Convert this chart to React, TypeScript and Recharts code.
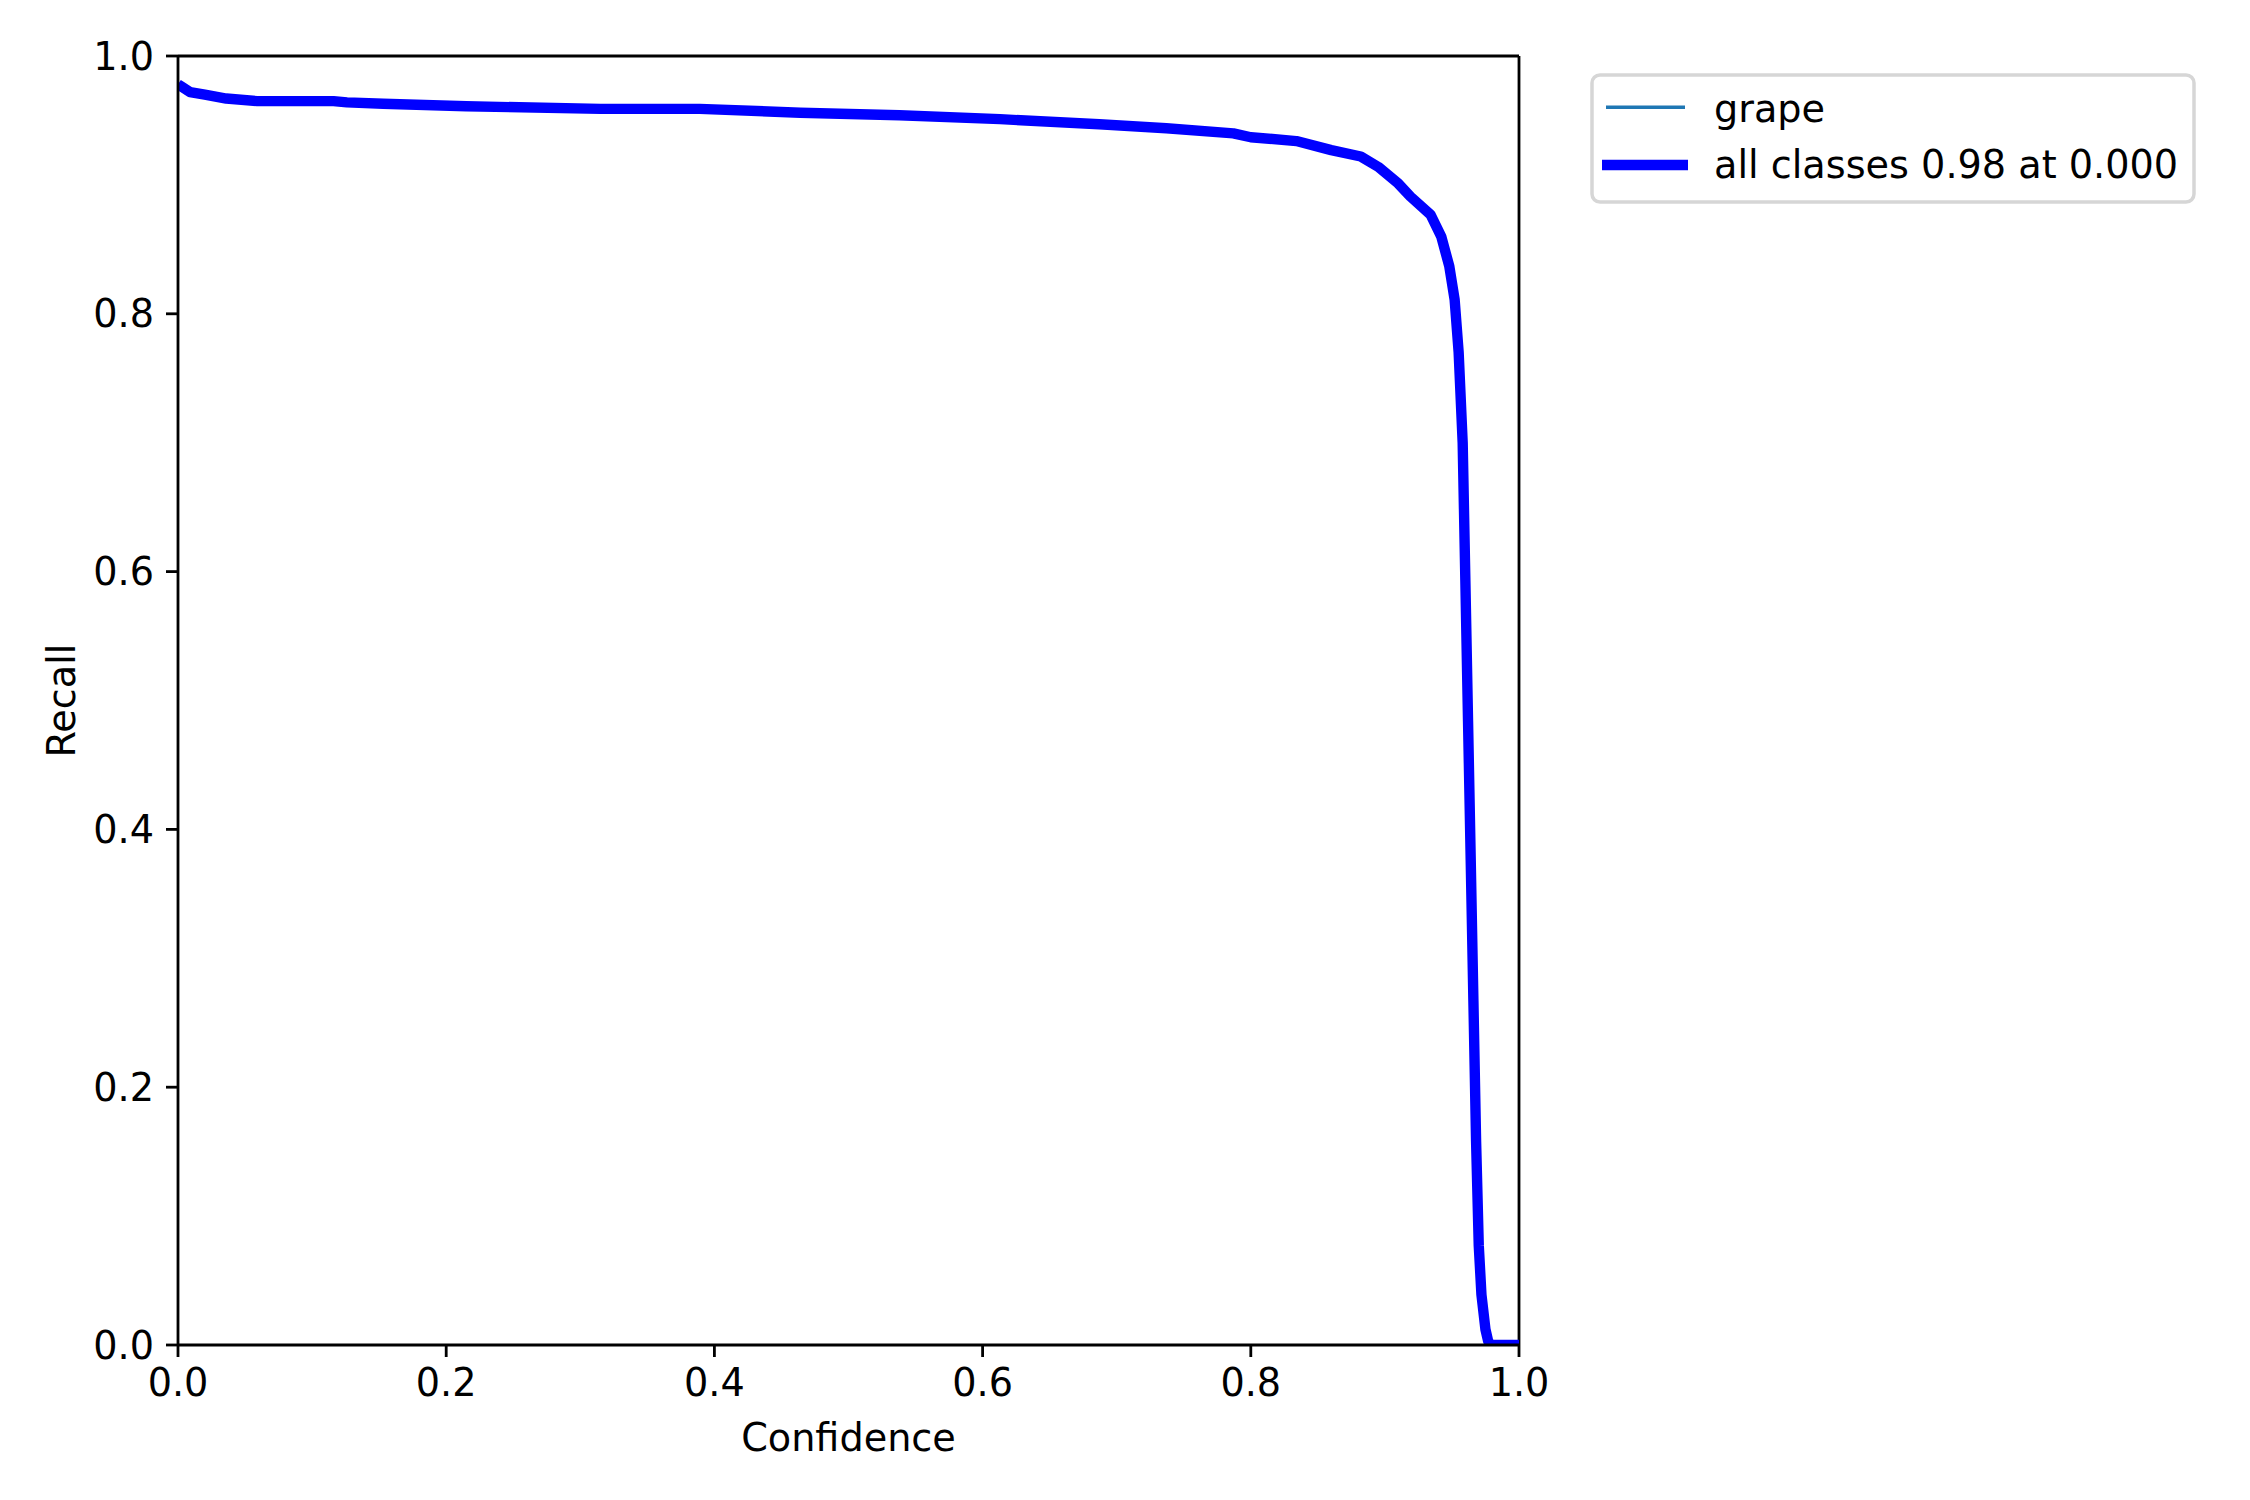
import React from 'react';
import {
  LineChart,
  Line,
  XAxis,
  YAxis,
  ReferenceLine,
  Legend,
} from 'recharts';

const FONT = '"DejaVu Sans", sans-serif';
const FONT_SIZE = 38.2;

// confidence threshold (x) and recall (y)
const confidence = [
  0, 0.003, 0.009, 0.02, 0.036, 0.059, 0.116, 0.126, 0.153, 0.215, 0.315,
  0.389, 0.464, 0.538, 0.613, 0.687, 0.737, 0.787, 0.8, 0.834, 0.86,
  0.882, 0.895, 0.91, 0.919, 0.934, 0.942, 0.948, 0.952, 0.955, 0.958,
  0.96, 0.962, 0.964, 0.966, 0.968, 0.97, 0.972, 0.975, 0.977, 0.979,
  0.985, 1.0,
];

const allClassesRecall = [
  0.978, 0.976, 0.972, 0.97, 0.967, 0.965, 0.965, 0.964, 0.963, 0.961, 0.959,
  0.959, 0.956, 0.954, 0.951, 0.947, 0.944, 0.94, 0.937, 0.934, 0.927,
  0.922, 0.914, 0.901, 0.891, 0.877, 0.86, 0.837, 0.811, 0.77, 0.7,
  0.593, 0.484, 0.376, 0.267, 0.158, 0.077, 0.039, 0.012, 0.003, 0,
  0, 0,
];

// only one class, so the grape curve is the same as the all-classes one
const grapeRecall = allClassesRecall;

const xTicks = [0, 0.2, 0.4, 0.6, 0.8, 1.0];
const yTicks = [0, 0.2, 0.4, 0.6, 0.8, 1.0];

const seriesNames = ['grape', 'all classes 0.98 at 0.000'];

const data = confidence.map((c, i) => ({
  conf: c,
  grape: grapeRecall[i],
  all: allClassesRecall[i],
}));

const tickStyle = { fill: '#000', fontSize: FONT_SIZE, fontFamily: FONT };
const lineStyle = { stroke: '#000', strokeWidth: 2.8 };

const LegendBox = () => (
  <svg width={610} height={135}>
    <rect x={4} y={4} width={602} height={127} rx={8} fill="#fff" stroke="#d6d6d6" strokeWidth={3.5} />
    <line x1={18} x2={97} y1={36.3} y2={36.3} stroke="#1f77b4" strokeWidth={3.5} />
    <line x1={14} x2={100} y1={94} y2={94} stroke="#0000ff" strokeWidth={10.4} />
    <text x={126} y={50.7} fontSize={FONT_SIZE} fontFamily={FONT} fill="#000">{seriesNames[0]}</text>
    <text x={126} y={107.3} fontSize={FONT_SIZE} fontFamily={FONT} fill="#000">{seriesNames[1]}</text>
  </svg>
);

export default function App() {
  return (
    <div style={{ position: 'absolute', left: 0, top: 0, width: 2250, height: 1500, background: '#fff' }}>
      <LineChart
        width={2250}
        height={1500}
        data={data}
        margin={{ top: 56, right: 731, bottom: 0, left: 0 }}
        style={{ fontFamily: FONT }}
      >
        <XAxis
          type="number"
          dataKey="conf"
          domain={[0, 1]}
          ticks={xTicks}
          interval={0}
          allowDataOverflow
          height={155}
          tickSize={12}
          tickMargin={12}
          tick={tickStyle}
          axisLine={lineStyle}
          tickLine={lineStyle}
          tickFormatter={(v: number) => v.toFixed(1)}
          label={{ value: 'Confidence', position: 'insideBottom', offset: 49, fill: '#000', fontSize: FONT_SIZE, fontFamily: FONT }}
        />
        <YAxis
          type="number"
          domain={[0, 1]}
          ticks={yTicks}
          interval={0}
          allowDataOverflow
          width={178}
          tickSize={12}
          tickMargin={12}
          tick={tickStyle}
          axisLine={lineStyle}
          tickLine={lineStyle}
          tickFormatter={(v: number) => v.toFixed(1)}
          label={{
            value: 'Recall',
            angle: -90,
            position: 'insideLeft',
            offset: 61,
            fill: '#000',
            fontSize: FONT_SIZE,
            fontFamily: FONT,
            style: { textAnchor: 'middle' },
          }}
        />
        <ReferenceLine y={1} stroke="#000" strokeWidth={2.8} />
        <ReferenceLine x={1} stroke="#000" strokeWidth={2.8} />
        <Line
          type="linear"
          dataKey="grape"
          name={seriesNames[0]}
          stroke="#1f77b4"
          strokeWidth={3.5}
          dot={false}
          activeDot={false}
          isAnimationActive={false}
        />
        <Line
          type="linear"
          dataKey="all"
          name={seriesNames[1]}
          stroke="#0000ff"
          strokeWidth={10.4}
          strokeLinejoin="round"
          dot={false}
          activeDot={false}
          isAnimationActive={false}
        />
        <Legend
          layout="horizontal"
          verticalAlign="middle"
          align="center"
          content={() => <LegendBox />}
          wrapperStyle={{ left: 1588, top: 71, width: 610, height: 135 }}
        />
      </LineChart>
    </div>
  );
}
